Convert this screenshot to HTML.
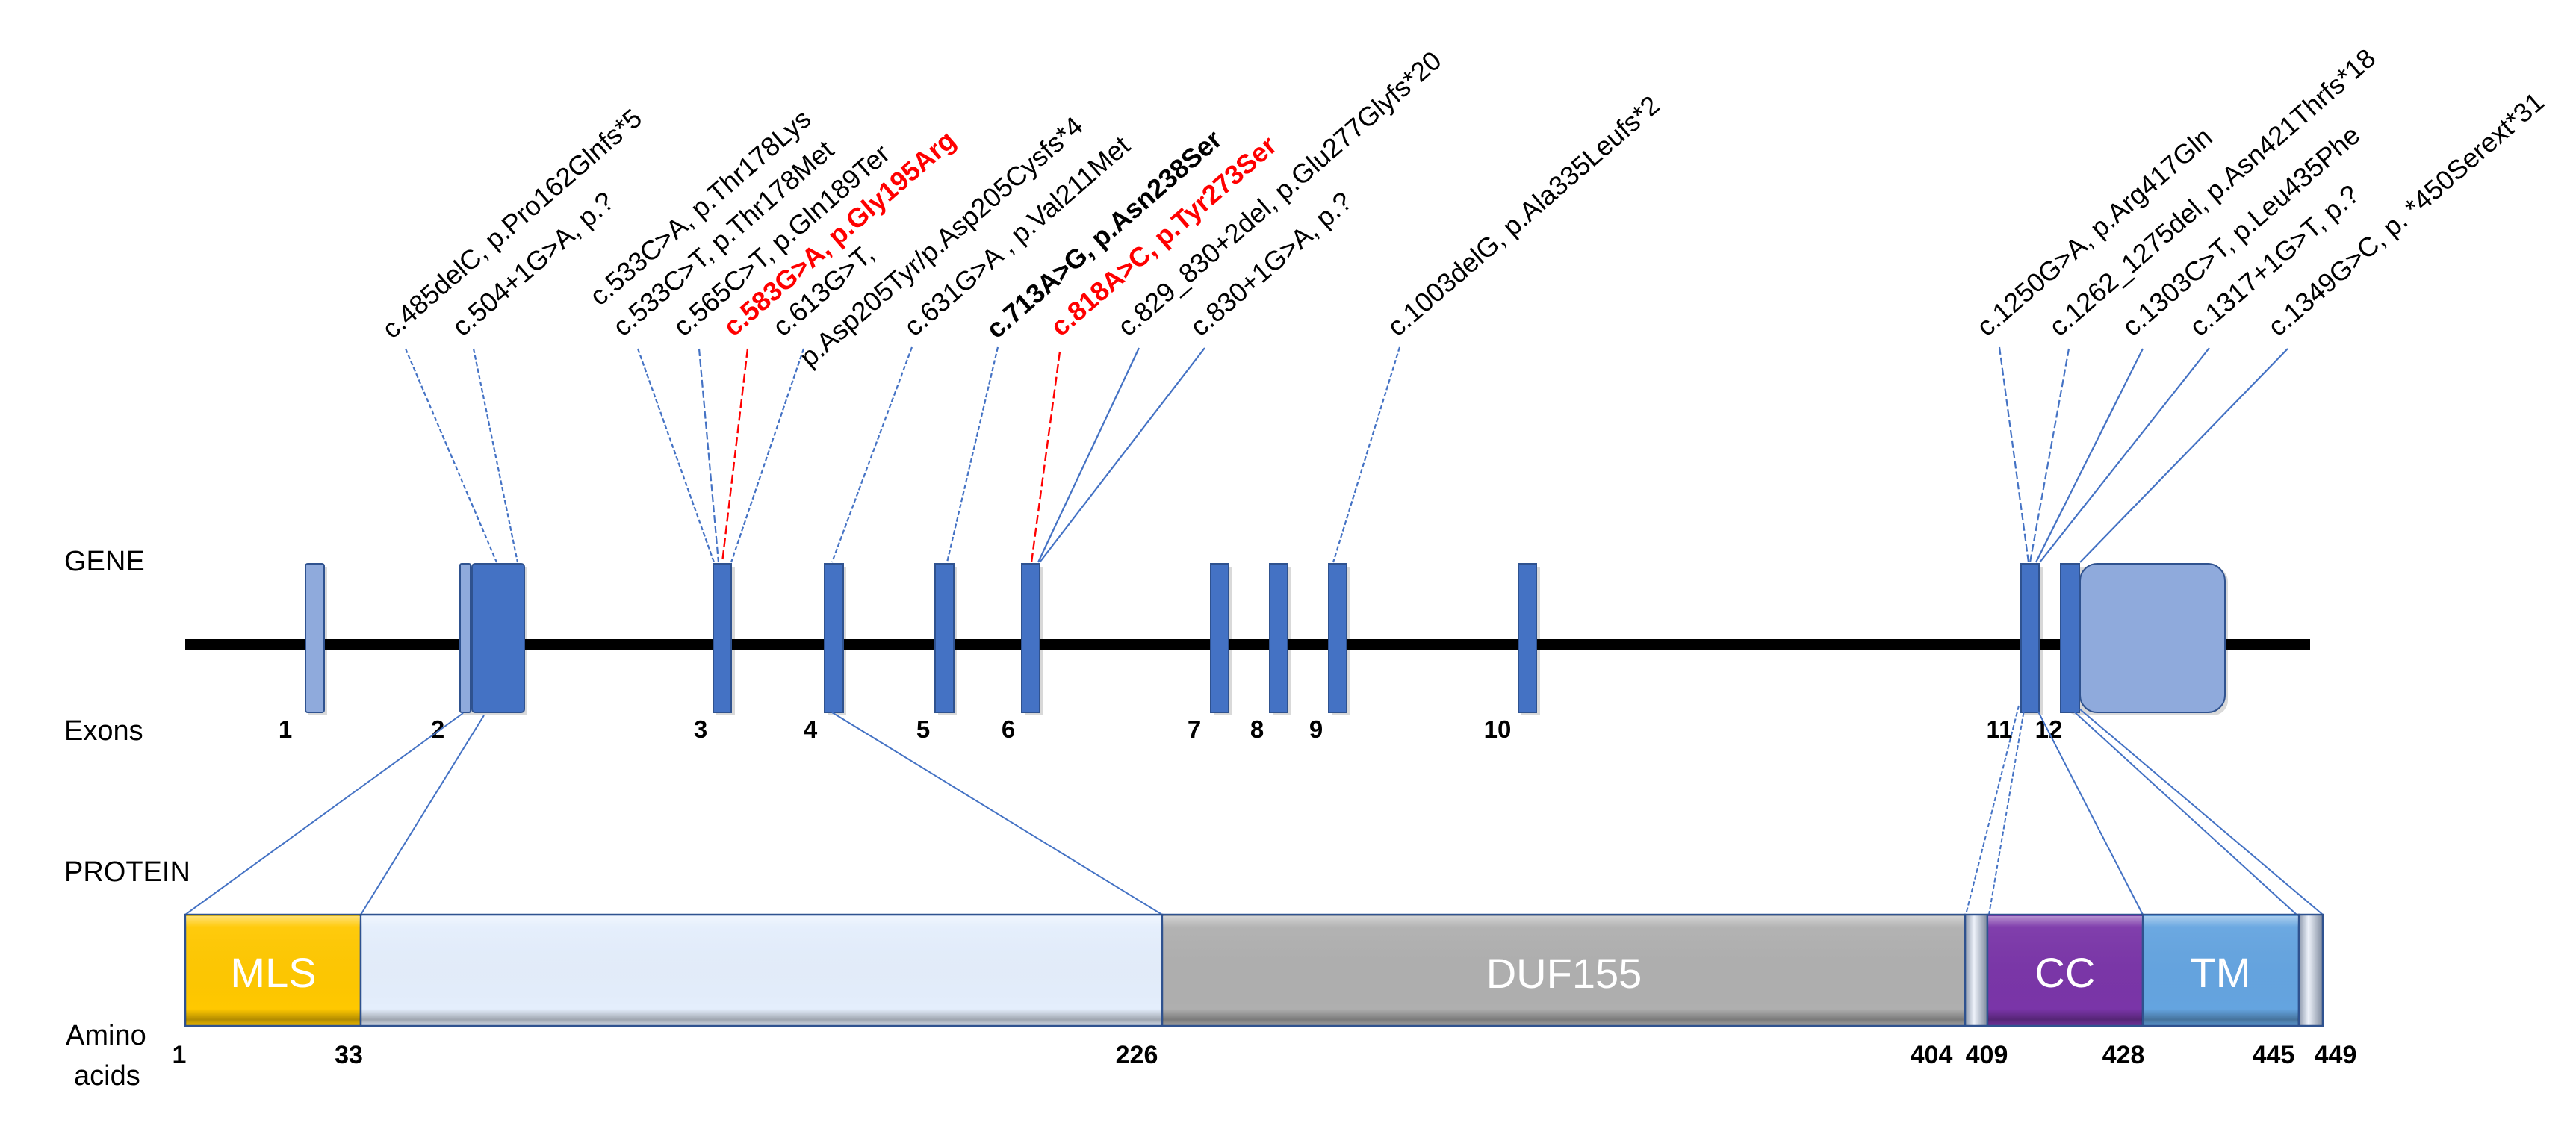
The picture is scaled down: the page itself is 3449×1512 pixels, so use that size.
<!DOCTYPE html>
<html><head><meta charset="utf-8"><style>
html,body{margin:0;padding:0;background:#fff;}
svg{display:block;}
text{font-family:"Liberation Sans",sans-serif;}
</style></head><body>
<svg width="3449" height="1512" viewBox="0 0 3449 1512" xmlns="http://www.w3.org/2000/svg">
<defs>
<linearGradient id="bev" x1="0" y1="0" x2="0" y2="1">
<stop offset="0" stop-color="#fff" stop-opacity="0.45"/>
<stop offset="0.1" stop-color="#fff" stop-opacity="0.05"/>
<stop offset="0.85" stop-color="#000" stop-opacity="0"/>
<stop offset="0.95" stop-color="#000" stop-opacity="0.3"/>
<stop offset="1" stop-color="#000" stop-opacity="0.1"/>
</linearGradient>
<linearGradient id="narrow" x1="0" y1="0" x2="1" y2="0">
<stop offset="0" stop-color="#8a96aa"/>
<stop offset="0.4" stop-color="#eef2fa"/>
<stop offset="1" stop-color="#7c889c"/>
</linearGradient>
</defs>

<!-- left labels -->
<g font-size="38" fill="#000">
<text x="86" y="764">GENE</text>
<text x="86" y="991">Exons</text>
<text x="86" y="1180">PROTEIN</text>
<text x="88" y="1399">Amino</text>
<text x="99" y="1453">acids</text>
</g>

<!-- mutation lines -->
<g stroke="#4472c4" stroke-width="2.2" fill="none">
<line x1="543" y1="467" x2="665" y2="753" stroke-dasharray="6,3"/>
<line x1="634" y1="467" x2="693" y2="753" stroke-dasharray="6,3"/>
<line x1="854" y1="467" x2="956" y2="753" stroke-dasharray="6,3"/>
<line x1="936" y1="467" x2="962" y2="753" stroke-dasharray="10,4"/>
<line x1="1076" y1="467" x2="979" y2="753" stroke-dasharray="6,3"/>
<line x1="1221" y1="465" x2="1114" y2="753" stroke-dasharray="6,3"/>
<line x1="1336" y1="465" x2="1268" y2="753" stroke-dasharray="6,3"/>
<line x1="1525" y1="466" x2="1390" y2="753"/>
<line x1="1613" y1="466" x2="1392" y2="753"/>
<line x1="1874" y1="465" x2="1785" y2="753" stroke-dasharray="6,3"/>
<line x1="2677" y1="465" x2="2716" y2="753" stroke-dasharray="10,4"/>
<line x1="2770" y1="467" x2="2718" y2="753" stroke-dasharray="10,4"/>
<line x1="2869" y1="467" x2="2726" y2="753"/>
<line x1="2958" y1="466" x2="2731" y2="753"/>
<line x1="3063" y1="467" x2="2785" y2="753"/>
</g>
<g stroke="#ff0000" stroke-width="2.4" fill="none" stroke-dasharray="12,5">
<line x1="1001" y1="467" x2="967" y2="753"/>
<line x1="1419" y1="471" x2="1381" y2="753"/>
</g>

<!-- mutation labels -->
<g font-size="36" fill="#000">
<text x="525" y="455" transform="rotate(-41 525 455)">c.485delC, p.Pro162Glnfs*5</text>
<text x="619" y="452" transform="rotate(-41 619 452)">c.504+1G&gt;A, p.?</text>
<text x="803" y="411" transform="rotate(-41 803 411)">c.533C&gt;A, p.Thr178Lys</text>
<text x="834" y="452" transform="rotate(-41 834 452)">c.533C&gt;T, p.Thr178Met</text>
<text x="915" y="452" transform="rotate(-41 915 452)">c.565C&gt;T, p.Gln189Ter</text>
<text x="982" y="452" transform="rotate(-41 982 452)" fill="#ff0000" font-weight="bold">c.583G&gt;A, p.Gly195Arg</text>
<text x="1048" y="452" transform="rotate(-41 1048 452)">c.613G&gt;T,</text>
<text x="1084" y="493" transform="rotate(-41 1084 493)">p.Asp205Tyr/p.Asp205Cysfs*4</text>
<text x="1224" y="452" transform="rotate(-41 1224 452)">c.631G&gt;A , p.Val211Met</text>
<text x="1334" y="455" transform="rotate(-41 1334 455)" font-weight="bold">c.713A&gt;G, p.Asn238Ser</text>
<text x="1420" y="452" transform="rotate(-41 1420 452)" fill="#ff0000" font-weight="bold">c.818A&gt;C, p.Tyr273Ser</text>
<text x="1510" y="452" transform="rotate(-41 1510 452)">c.829_830+2del, p.Glu277Glyfs*20</text>
<text x="1607" y="452" transform="rotate(-41 1607 452)">c.830+1G&gt;A, p.?</text>
<text x="1871" y="452" transform="rotate(-41 1871 452)">c.1003delG, p.Ala335Leufs*2</text>
<text x="2660" y="452" transform="rotate(-41 2660 452)">c.1250G&gt;A, p.Arg417Gln</text>
<text x="2757" y="452" transform="rotate(-41 2757 452)">c.1262_1275del, p.Asn421Thrfs*18</text>
<text x="2855" y="452" transform="rotate(-41 2855 452)">c.1303C&gt;T, p.Leu435Phe</text>
<text x="2945" y="452" transform="rotate(-41 2945 452)">c.1317+1G&gt;T, p.?</text>
<text x="3050" y="452" transform="rotate(-41 3050 452)">c.1349G&gt;C, p. *450Serext*31</text>
</g>

<!-- gene backbone -->
<rect x="248" y="856" width="2845" height="15" fill="#000"/>

<!-- exon shadows -->
<g fill="#000" opacity="0.15">
<rect x="413" y="759" width="25" height="199"/>
<rect x="620" y="759" width="86" height="199"/>
<rect x="959" y="759" width="25" height="199"/>
<rect x="1108" y="759" width="25" height="199"/>
<rect x="1256" y="759" width="25" height="199"/>
<rect x="1372" y="759" width="25" height="199"/>
<rect x="1625" y="759" width="25" height="199"/>
<rect x="1704" y="759" width="25" height="199"/>
<rect x="1783" y="759" width="25" height="199"/>
<rect x="2037" y="759" width="25" height="199"/>
<rect x="2710" y="759" width="25" height="199"/>
<rect x="2763" y="759" width="220" height="199" rx="20"/>
</g>
<!-- exons -->
<g stroke="#2f528f" stroke-width="2">
<rect x="409" y="755" width="25" height="199" rx="3" fill="#8faadc"/>
<rect x="616" y="755" width="14" height="199" rx="2" fill="#8faadc"/>
<rect x="632" y="755" width="70" height="199" rx="4" fill="#4472c4"/>
<rect x="955" y="755" width="24" height="199" fill="#4472c4"/>
<rect x="1104" y="755" width="25" height="199" fill="#4472c4"/>
<rect x="1252" y="755" width="25" height="199" fill="#4472c4"/>
<rect x="1368" y="755" width="24" height="199" fill="#4472c4"/>
<rect x="1621" y="755" width="24" height="199" fill="#4472c4"/>
<rect x="1700" y="755" width="24" height="199" fill="#4472c4"/>
<rect x="1779" y="755" width="24" height="199" fill="#4472c4"/>
<rect x="2033" y="755" width="24" height="199" fill="#4472c4"/>
<rect x="2706" y="755" width="24" height="199" fill="#4472c4"/>
<rect x="2785" y="755" width="194" height="199" rx="23" fill="#8faadc"/>
<rect x="2759" y="755" width="25" height="199" fill="#4472c4"/>
</g>

<!-- exon numbers -->
<g font-size="33" font-weight="bold" fill="#000" text-anchor="middle">
<text x="382" y="988">1</text>
<text x="586" y="988">2</text>
<text x="938" y="988">3</text>
<text x="1085" y="988">4</text>
<text x="1236" y="988">5</text>
<text x="1350" y="988">6</text>
<text x="1599" y="988">7</text>
<text x="1683" y="988">8</text>
<text x="1762" y="988">9</text>
<text x="2005" y="988">10</text>
<text x="2677" y="988">11</text>
<text x="2743" y="988">12</text>
</g>

<!-- gene->protein lines -->
<g stroke="#4472c4" stroke-width="2" fill="none">
<line x1="620" y1="955" x2="248" y2="1225"/>
<line x1="648" y1="958" x2="483" y2="1225"/>
<line x1="1114" y1="954" x2="1556" y2="1225"/>
<line x1="2703" y1="945" x2="2632" y2="1225" stroke-dasharray="6,3"/>
<line x1="2711" y1="945" x2="2663" y2="1225" stroke-dasharray="6,3"/>
<line x1="2729" y1="953" x2="2869" y2="1225"/>
<line x1="2777" y1="953" x2="3075" y2="1225"/>
<line x1="2785" y1="950" x2="3110" y2="1225"/>
</g>

<!-- protein bar -->
<g stroke="#2f528f" stroke-width="2.5">
<rect x="248" y="1225" width="235" height="149" fill="#ffc800"/>
<rect x="483" y="1225" width="1073" height="149" fill="#e4eefc"/>
<rect x="1556" y="1225" width="1075" height="149" fill="#afafaf"/>
<rect x="2631" y="1225" width="30" height="149" fill="url(#narrow)"/>
<rect x="2661" y="1225" width="208" height="149" fill="#7a35a8"/>
<rect x="2869" y="1225" width="209" height="149" fill="#64a4e0"/>
<rect x="3078" y="1225" width="32" height="149" fill="url(#narrow)"/>
</g>
<g fill="url(#bev)">
<rect x="249" y="1227" width="233" height="146"/>
<rect x="484" y="1227" width="1071" height="146"/>
<rect x="1557" y="1227" width="1073" height="146"/>
<rect x="2662" y="1227" width="206" height="146"/>
<rect x="2870" y="1227" width="207" height="146"/>
</g>

<g font-size="56" fill="#fff" text-anchor="middle">
<text x="366" y="1322">MLS</text>
<text x="2094" y="1323">DUF155</text>
<text x="2765" y="1322">CC</text>
<text x="2973" y="1322">TM</text>
</g>

<!-- amino acid numbers -->
<g font-size="34" font-weight="bold" fill="#000" text-anchor="middle">
<text x="240" y="1424">1</text>
<text x="467" y="1424">33</text>
<text x="1522" y="1424">226</text>
<text x="2586" y="1424">404</text>
<text x="2660" y="1424">409</text>
<text x="2843" y="1424">428</text>
<text x="3044" y="1424">445</text>
<text x="3127" y="1424">449</text>
</g>
</svg>
</body></html>
